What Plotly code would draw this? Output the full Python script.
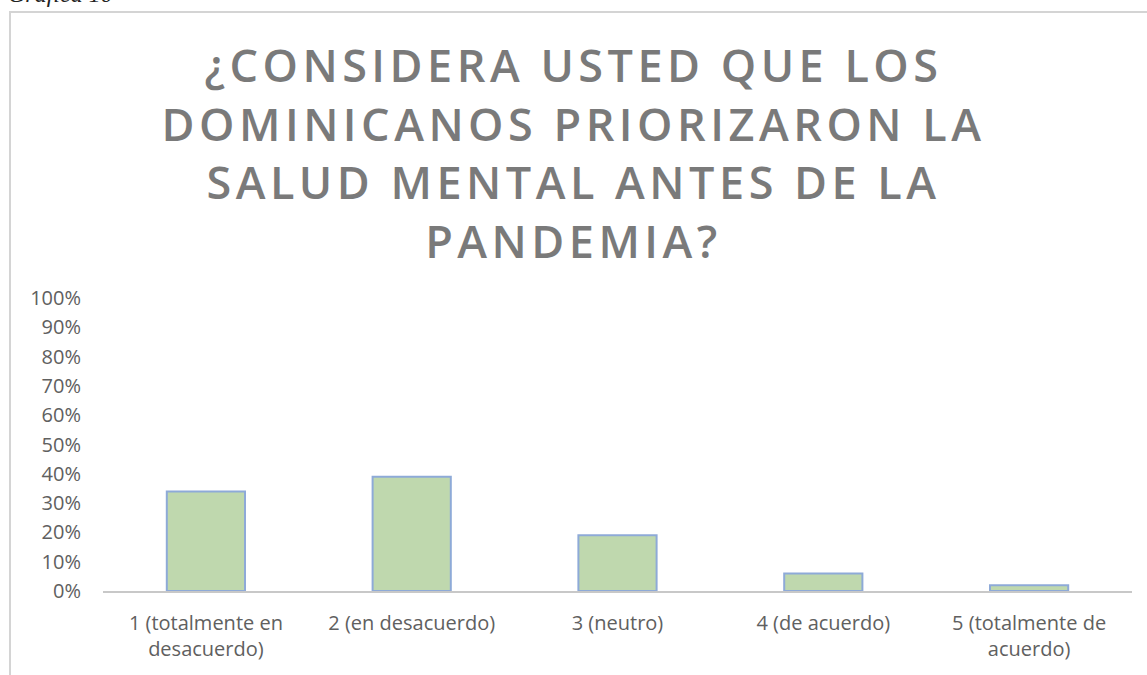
import plotly.graph_objects as go

categories = [
    "1 (totalmente en<br>desacuerdo)",
    "2 (en desacuerdo)",
    "3 (neutro)",
    "4 (de acuerdo)",
    "5 (totalmente de<br>acuerdo)",
]
values = [0.34, 0.39, 0.19, 0.06, 0.02]
y_ticks = [0, 0.1, 0.2, 0.3, 0.4, 0.5, 0.6, 0.7, 0.8, 0.9, 1.0]
y_tick_labels = ["0%", "10%", "20%", "30%", "40%", "50%", "60%", "70%", "80%", "90%", "100%"]
title_text = ("¿CONSIDERA USTED QUE LOS<br>DOMINICANOS PRIORIZARON LA<br>"
              "SALUD MENTAL ANTES DE LA<br>PANDEMIA?")
caption_text = "Gráfica 10"

W, H = 1147, 675
L, R, T, B = 103, 15, 298, 84
pw, ph = W - L - R, H - T - B

def px_x(x):
    return (x - L) / pw

def px_y(y):
    return (H - B - y) / ph

fig = go.Figure()
fig.add_trace(go.Bar(
    x=categories,
    y=values,
    marker=dict(color="#bfd8ae", line=dict(color="#8eaad8", width=2)),
    hoverinfo="skip",
))

fig.update_layout(
    width=W, height=H,
    margin=dict(l=L, r=R, t=T, b=B, pad=0),
    paper_bgcolor="white",
    plot_bgcolor="white",
    bargap=0.62,
    showlegend=False,
    title=dict(
        text=title_text,
        x=0.5, xref="container", xanchor="center",
        y=1 - 82 / H, yref="container", yanchor="top",
        font=dict(family="Open Sans", size=45, color="#7a7a7a", weight=600),
    ),
    font=dict(family="Open Sans", color="#606060"),
)

fig.update_xaxes(
    showgrid=False,
    showline=True, linecolor="#c8c8c8", linewidth=2,
    ticks="", tickfont=dict(size=20, color="#606060"),
    ticklabelstandoff=13,
    range=[-0.5, 4.5],
    fixedrange=True,
)
fig.update_yaxes(
    range=[0, 1],
    tickvals=y_ticks, ticktext=y_tick_labels,
    showgrid=False, zeroline=False, showline=False,
    ticks="", tickfont=dict(size=20, color="#606060"),
    ticklabelstandoff=21,
    fixedrange=True,
)

# chart frame (extends beyond the right and bottom edges)
fig.add_shape(
    type="rect", xref="paper", yref="paper",
    x0=px_x(10), x1=px_x(W + 20), y0=px_y(H + 20), y1=px_y(12),
    line=dict(color="#d4d4d4", width=2), fillcolor="rgba(0,0,0,0)",
    layer="below",
)

# caption, cut off at the top as in the source
fig.add_annotation(
    text=caption_text, xref="paper", yref="paper",
    x=px_x(6), y=px_y(9), xanchor="left", yanchor="bottom",
    showarrow=False,
    font=dict(family="Liberation Serif", size=24, color="#222222", style="italic"),
)

post = ("var s=document.createElement('style');"
        "s.innerHTML='body{margin:0;} .gtitle{letter-spacing:4.5px;}';"
        "document.head.appendChild(s);")
fig.write_html("out.html", post_script=post, config={"displayModeBar": False})
